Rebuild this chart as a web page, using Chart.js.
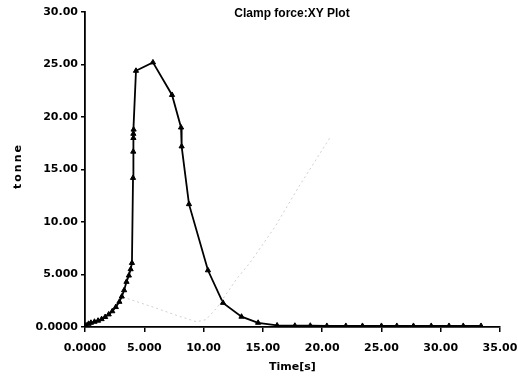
<!DOCTYPE html>
<html>
<head>
<meta charset="utf-8">
<script src="https://cdn.jsdelivr.net/npm/chart.js"></script>
<style>
  body { margin: 0; background: #fff; }
  canvas { display: block; }
</style>
</head>
<body>
<canvas id="myChart" width="518" height="379"></canvas>
<script>
// clamp force readings (time in s, force in tonne)
var times = [0.0, 0.1, 0.3, 0.5, 0.8, 1.1, 1.4, 1.7, 2.0, 2.3, 2.6, 2.9, 3.1, 3.3, 3.5, 3.7, 3.85, 3.96,
             4.05, 4.07, 4.08, 4.08, 4.1, 4.3, 5.73, 7.34, 8.1, 8.15, 8.77, 10.37, 11.64, 13.2, 14.6,
             16.2, 17.7, 19.0, 20.4, 22.0, 23.4, 25.0, 26.3, 27.7, 29.2, 30.7, 31.9, 33.4];
var force = [0.0, 0.15, 0.3, 0.4, 0.5, 0.6, 0.75, 0.95, 1.2, 1.5, 1.9, 2.4, 2.9, 3.5, 4.3, 4.9, 5.5, 6.1,
             14.2, 16.7, 18.0, 18.4, 18.8, 24.4, 25.2, 22.1, 19.0, 17.2, 11.7, 5.4, 2.3, 0.98, 0.4,
             0.15, 0.12, 0.12, 0.1, 0.1, 0.1, 0.1, 0.1, 0.1, 0.1, 0.1, 0.1, 0.1];

// faint trace visible behind the main curve
var ghostTimes = [3.6, 6.0, 8.0, 9.4, 10.2, 11.1, 12.8, 13.9, 16.0, 18.0, 20.7];
var ghostForce = [2.7, 1.8, 1.0, 0.5, 0.7, 1.8, 4.6, 6.1, 9.5, 13.3, 18.1];

var xTickLabels = ['0.0000', '5.000', '10.00', '15.00', '20.00', '25.00', '30.00', '35.00'];
var yTickLabels = ['0.0000', '5.000', '10.00', '15.00', '20.00', '25.00', '30.00'];

var chartTitle = 'Clamp force:XY Plot';
var xTitle = 'Time[s]';
var yTitle = 'tonne';

function toPoints(xs, ys) {
    var pts = [];
    for (var i = 0; i < xs.length; i++) {
        pts.push({ x: xs[i], y: ys[i] });
    }
    return pts;
}

var tickFont = { family: '"DejaVu Sans", sans-serif', size: 11, weight: 'bold' };

// title and rotated y label are drawn by hand (letter spaced, inside plot)
var labelsPlugin = {
    id: 'labels',
    afterDraw: function (chart) {
        var ctx = chart.ctx;
        ctx.save();
        ctx.fillStyle = '#000';
        ctx.textAlign = 'center';
        ctx.textBaseline = 'middle';
        ctx.font = 'bold 12px "Liberation Sans", Arial, sans-serif';
        ctx.fillText(chartTitle, 292, 14);

        ctx.translate(18, 166);
        ctx.rotate(-Math.PI / 2);
        ctx.font = 'bold 11px "DejaVu Sans", sans-serif';
        ctx.letterSpacing = '2px';
        ctx.fillText(yTitle, 0, 0);
        ctx.restore();
    }
};

var ctx = document.getElementById('myChart');
new Chart(ctx, {
    type: 'scatter',
    data: {
        datasets: [{
            label: 'ghost',
            data: toPoints(ghostTimes, ghostForce),
            showLine: true,
            borderColor: '#cfcfcf',
            borderWidth: 1,
            borderDash: [2, 3],
            pointRadius: 0,
            tension: 0
        }, {
            label: 'Clamp force',
            data: toPoints(times, force),
            showLine: true,
            borderColor: '#000',
            borderWidth: 1.8,
            backgroundColor: '#000',
            pointStyle: 'triangle',
            pointRadius: 3,
            pointBorderWidth: 1,
            tension: 0
        }]
    },
    options: {
        responsive: false,
        animation: false,
        layout: { padding: { top: 12, right: 18, left: 0, bottom: 0 } },
        plugins: {
            legend: { display: false },
            tooltip: { enabled: false }
        },
        scales: {
            x: {
                type: 'linear',
                min: 0,
                max: 35,
                afterFit: function (scale) {
                    scale.height = 52;
                    // keep the plot edge fixed, labels may overhang
                    scale.paddingLeft = 0;
                    scale.paddingRight = 0;
                },
                ticks: {
                    stepSize: 5,
                    color: '#000',
                    font: tickFont,
                    padding: 10,
                    maxRotation: 0,
                    callback: function (value) { return xTickLabels[Math.round(value / 5)]; }
                },
                grid: { drawOnChartArea: false, color: '#000', tickLength: 5, lineWidth: 1.5 },
                border: { color: '#000', width: 1.8 },
                title: {
                    display: true,
                    text: xTitle,
                    color: '#000',
                    font: { family: '"DejaVu Sans", sans-serif', size: 11, weight: 'bold' },
                    padding: { top: 0, bottom: 5 }
                }
            },
            y: {
                min: 0,
                max: 30,
                afterFit: function (scale) { scale.width = 85; },
                ticks: {
                    stepSize: 5,
                    color: '#000',
                    font: tickFont,
                    padding: 3,
                    callback: function (value) { return yTickLabels[Math.round(value / 5)]; }
                },
                grid: { drawOnChartArea: false, color: '#000', tickLength: 4, lineWidth: 1.5 },
                border: { color: '#000', width: 1.8 }
            }
        }
    },
    plugins: [labelsPlugin]
});
</script>
</body>
</html>
